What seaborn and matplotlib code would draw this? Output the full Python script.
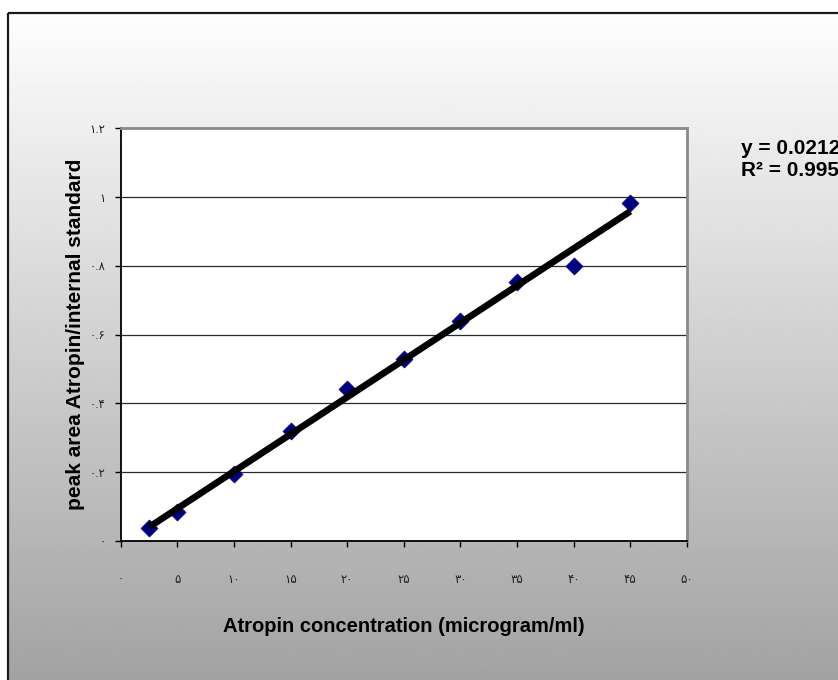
import numpy as np
import seaborn as sns
import matplotlib.pyplot as plt
from matplotlib.patches import Rectangle

# concentration (microgram/ml) and peak area ratio
concentration = [2.5, 5, 10, 15, 20, 25, 30, 35, 40, 45]
peak_ratio = [0.037, 0.084, 0.195, 0.320, 0.441, 0.528, 0.641, 0.752, 0.799, 0.982]

x_ticks = [0, 5, 10, 15, 20, 25, 30, 35, 40, 45, 50]
x_tick_labels = ["۰", "۵", "۱۰", "۱۵", "۲۰", "۲۵", "۳۰", "۳۵", "۴۰", "۴۵", "۵۰"]
y_ticks = [0, 0.2, 0.4, 0.6, 0.8, 1.0, 1.2]
y_tick_labels = ["۰", "۰.۲", "۰.۴", "۰.۶", "۰.۸", "۱", "۱.۲"]

# trendline label, runs off the right edge as in the original
equation_text = "y = 0.0212x - 0.0137"
r2_text = "R² = 0.9957"

sns.set_theme(style="white")
plt.rcParams["font.family"] = ["Liberation Sans", "DejaVu Sans"]

W, H = 838, 680
fig = plt.figure(figsize=(W / 100, H / 100), dpi=100)
fig.patch.set_facecolor("white")

# gradient chart area (white at top -> gray at bottom) with a dark border
bg = fig.add_axes([0, 0, 1, 1], zorder=-5)
bg.set_xlim(0, W)
bg.set_ylim(H, 0)
bg.axis("off")
grad = np.linspace(0.995, 0.635, 256).reshape(-1, 1)
bg.imshow(grad, cmap="gray", vmin=0, vmax=1, aspect="auto",
          extent=[8, W + 5, H + 5, 13], interpolation="bilinear")
bg.add_patch(Rectangle((8, 13), W, H, fill=False, ec="#1a1a1a", lw=1.6))

ax = fig.add_axes([120.7 / W, 1 - 541 / H, (687 - 120.7) / W, (541 - 128.3) / H])
ax.set_facecolor("white")

sns.regplot(x=concentration, y=peak_ratio, ax=ax, ci=None, scatter=False,
            line_kws=dict(color="black", lw=4.8, solid_capstyle="butt", zorder=4))
sns.scatterplot(x=concentration, y=peak_ratio, ax=ax, marker="D", s=75,
                color="#000080", edgecolor="#000080", linewidth=0.5, zorder=3)

ax.set_xlim(0, 50)
ax.set_ylim(0, 1.2)
ax.set_xticks(x_ticks)
ax.set_xticklabels(x_tick_labels, fontsize=8.5, color="#222222")
ax.set_yticks(y_ticks)
ax.set_yticklabels(y_tick_labels, fontsize=8.5, color="#222222")
ax.tick_params(axis="both", direction="out", length=4, width=1, color="black",
               bottom=True, left=True)
ax.tick_params(axis="x", pad=20)
ax.tick_params(axis="y", pad=7)

ax.yaxis.grid(True, color="#2a2a2a", lw=0.9)
ax.xaxis.grid(False)
ax.set_axisbelow(True)

for side in ["left", "bottom"]:
    ax.spines[side].set_color("black")
    ax.spines[side].set_linewidth(1.3)
for side in ["top", "right"]:
    ax.spines[side].set_color("#8a8a8a")
    ax.spines[side].set_linewidth(2)

ax.set_xlabel("Atropin concentration (microgram/ml)", fontsize=14.5,
              fontweight="bold", color="black")
ax.xaxis.set_label_coords(0.5, (541 - 626) / (541 - 128.3))
ax.xaxis.label.set_verticalalignment("center")
ax.set_ylabel("peak area Atropin/internal standard", fontsize=15,
              fontweight="bold", color="black")
ax.yaxis.set_label_coords((75 - 120.7) / (687 - 120.7), 0.5)
ax.yaxis.label.set_verticalalignment("center")

fig.text(741 / W, 1 - 149 / H, equation_text, fontsize=15, fontweight="bold",
         ha="left", va="center", color="black")
fig.text(741 / W, 1 - 171 / H, r2_text, fontsize=15, fontweight="bold",
         ha="left", va="center", color="black")

fig.savefig("out.png", dpi=100)
